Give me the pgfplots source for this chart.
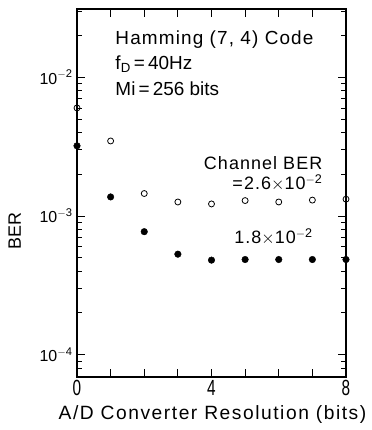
\documentclass[border=0pt]{standalone}
\usepackage{pgfplots}
\pgfplotsset{compat=1.18}
\usepackage{fontspec}
\setmainfont{Liberation Sans}
\newfontfamily\wide[LetterSpace=6]{Liberation Sans}
\newfontfamily\wider[LetterSpace=8]{Liberation Sans}
\begin{document}
\begin{tikzpicture}
\begin{axis}[
  scale only axis,
  width=269bp, height=368bp,
  xmin=0, xmax=8,
  ymode=log,
  ymin=6.9e-5, ymax=3.1e-2,
  xtick={0,1,...,8},
  xticklabels={\scalebox{0.7}[1]{0},,,,\scalebox{0.7}[1]{4},,,,\scalebox{0.7}[1]{8}},
  ytick={1e-4,1e-3,1e-2},
  yticklabels={10\textsuperscript{$-$4},10\textsuperscript{$-$3},10\textsuperscript{$-$2}},
  minor ytick={7e-5,8e-5,9e-5,2e-4,3e-4,4e-4,5e-4,6e-4,7e-4,8e-4,9e-4,2e-3,3e-3,4e-3,5e-3,6e-3,7e-3,8e-3,9e-3,2e-2,3e-2},
  tick align=inside,
  major tick length=8bp,
  minor tick length=5bp,
  axis line style={line width=1.1pt},
  every tick/.style={line width=0.8pt, black},
  every minor tick/.style={line width=0.8pt, black},
  yticklabel style={font=\fontsize{16}{16}\selectfont, xshift=-1bp},
  xticklabel style={font=\fontsize{22}{22}\selectfont, yshift=0bp},
  /pgf/number format/assume math mode=true,
  xlabel={\wider\fontsize{19.3}{19.3}\selectfont A/D Converter Resolution (bits)},
  xlabel style={yshift=-3bp, xshift=1bp},
  clip=false,
]
\addplot[only marks, mark=o, mark size=3.0bp, mark options={line width=0.8pt, fill=white, draw=black}]
 coordinates {(0,6.0e-3) (1,3.47e-3) (2,1.45e-3) (3,1.26e-3) (4,1.22e-3) (5,1.29e-3) (6,1.26e-3) (7,1.30e-3) (8,1.32e-3)};
\addplot[only marks, mark=*, mark size=3.3bp, mark options={fill=black, draw=black}]
 coordinates {(0,3.2e-3) (1,1.37e-3) (2,7.7e-4) (3,5.3e-4) (4,4.8e-4) (5,4.85e-4) (6,4.85e-4) (7,4.85e-4) (8,4.85e-4)};
\node[anchor=west, font=\wide\fontsize{19}{19}\selectfont] at (rel axis cs:0.13,0.918) {Hamming (7, 4) Code};
\node[anchor=west, font=\fontsize{19}{19}\selectfont] at (rel axis cs:0.13,0.851) {f\textsubscript{D}\,=\,40Hz};
\node[anchor=west, font=\fontsize{19}{19}\selectfont] at (rel axis cs:0.13,0.783) {Mi\,=\,256 bits};
\node[anchor=east, font=\wide\fontsize{18}{18}\selectfont] at (rel axis cs:0.925,0.582) {Channel BER};
\node[anchor=east, font=\wide\fontsize{18}{18}\selectfont] at (rel axis cs:0.925,0.527) {=2.6$\times$10\textsuperscript{$-$2}};
\node[anchor=west, font=\wide\fontsize{18}{18}\selectfont] at (rel axis cs:0.572,0.380) {1.8$\times$10\textsuperscript{$-$2}};
\node[rotate=90, font=\fontsize{18}{18}\selectfont] at (rel axis cs:-0.232,0.397) {BER};
\end{axis}
\pgfresetboundingbox
\useasboundingbox (-77bp,-53bp) rectangle (295bp,377bp);
\end{tikzpicture}
\end{document}
